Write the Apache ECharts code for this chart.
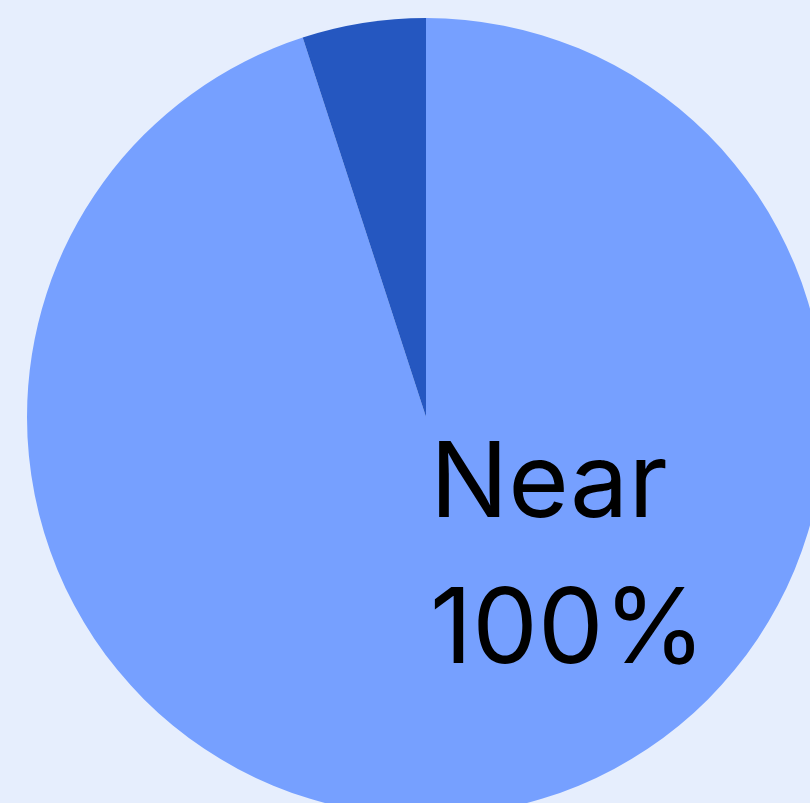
<!DOCTYPE html>
<html>
<head>
<meta charset="utf-8">
<script src="https://cdn.jsdelivr.net/npm/echarts@6/dist/echarts.min.js"></script>
<style>
html,body{margin:0;padding:0;background:#e6eefd;}
#chart{width:810px;height:803px;}
</style>
</head>
<body>
<div id="chart"></div>
<script>
const categories = ['Near 100%', 'Other'];
const values = [95, 5];
const colors = ['#76a0ff', '#2557c0'];
const labelLines = ['Near', '100%'];

const chart = echarts.init(document.getElementById('chart'), null, {renderer: 'canvas'});
chart.setOption({
  backgroundColor: '#e6eefd',
  animation: false,
  series: [{
    type: 'pie',
    z: 1,
    center: [426, 417],
    radius: [0, 399],
    startAngle: 90,
    clockwise: true,
    label: {show: false},
    labelLine: {show: false},
    emphasis: {disabled: true},
    itemStyle: {borderWidth: 0},
    data: categories.map((c, i) => ({name: c, value: values[i], itemStyle: {color: colors[i]}}))
  }],
  graphic: {
    elements: labelLines.map((t, i) => ({
      type: 'text',
      z: 100,
      zlevel: 1,
      left: 430,
      top: 434 + i * 146,
      style: {
        text: t,
        fontSize: 104,
        fontFamily: 'Inter',
        fontWeight: 400,
        fill: '#000000'
      }
    }))
  }
});
</script>
</body>
</html>
